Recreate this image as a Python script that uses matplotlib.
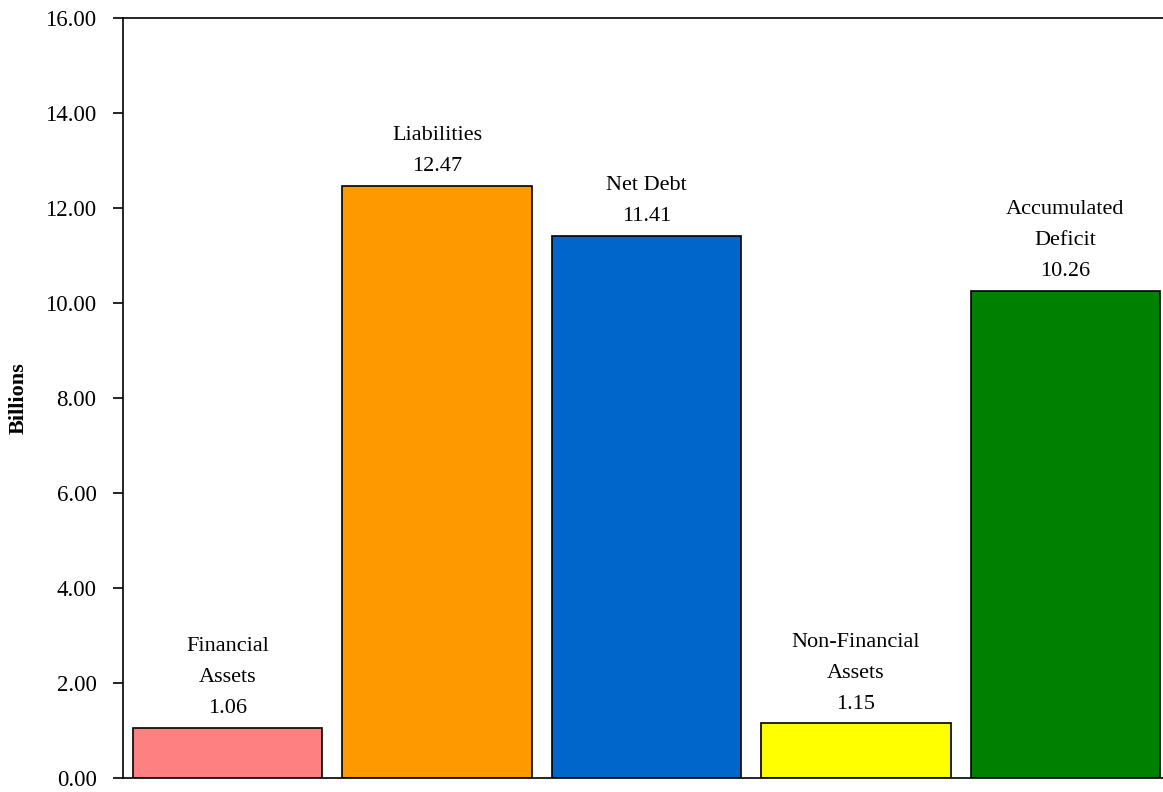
import matplotlib.pyplot as plt

plt.rcParams['font.family'] = ['Liberation Serif', 'DejaVu Serif']

categories = ['Financial\nAssets', 'Liabilities', 'Net Debt', 'Non-Financial\nAssets', 'Accumulated\nDeficit']
values = [1.06, 12.47, 11.41, 1.15, 10.26]
colors = ['#FF8080', '#FF9900', '#0066CC', '#FFFF00', '#008000']
yticks = [0, 2, 4, 6, 8, 10, 12, 14, 16]

fig = plt.figure(figsize=(11.63, 7.92), dpi=100)
ax = fig.add_axes([123 / 1163, 14 / 792, 1047 / 1163, 760 / 792])

x = range(len(values))
bars = ax.bar(x, values, width=0.905, color=colors, edgecolor='black', linewidth=1.2)

for i, (lab, v) in enumerate(zip(categories, values)):
    ax.annotate(lab + '\n' + '%.2f' % v, (i, v), xytext=(0, 7), textcoords='offset points',
                ha='center', va='bottom', fontsize=16, linespacing=1.85)

ax.set_xlim(-0.5, len(values) - 0.5)
ax.set_ylim(0, 16)
ax.set_yticks(yticks)
ax.set_yticklabels(['%.2f' % t for t in yticks], fontsize=16.5)
ax.set_xticks([])
ax.tick_params(axis='y', direction='out', length=7, width=1.2, pad=12)
ax.set_ylabel('Billions', fontsize=16, fontweight='bold', labelpad=12)
for s in ax.spines.values():
    s.set_linewidth(1.2)
ax.spines['right'].set_visible(False)

fig.savefig('out.png', dpi=100)
